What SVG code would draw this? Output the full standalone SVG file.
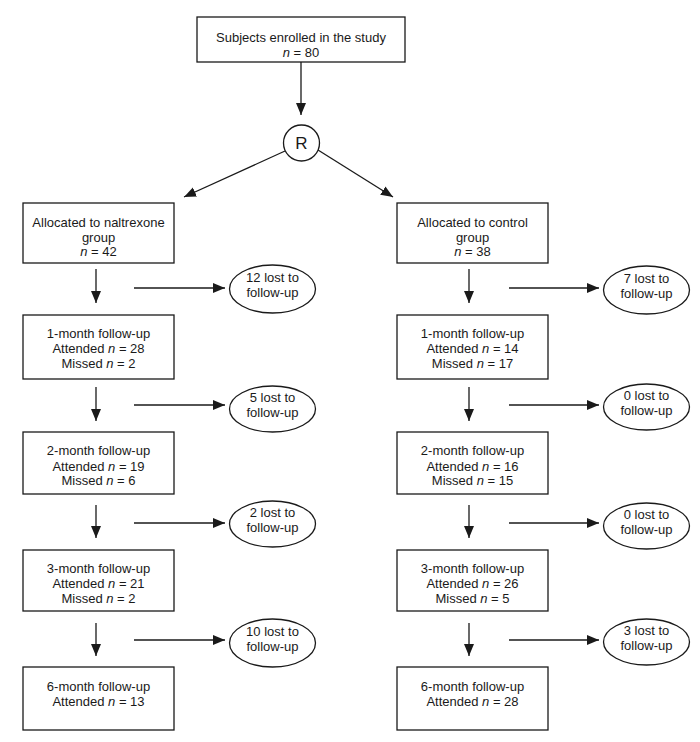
<svg xmlns="http://www.w3.org/2000/svg" width="700" height="742" viewBox="0 0 700 742">
<style>
.box{fill:#fff;stroke:#1a1a1a;stroke-width:1.3}
.ell{fill:#fff;stroke:#1a1a1a;stroke-width:1.3}
.t{font-family:"Liberation Sans",Arial,Helvetica,sans-serif;font-size:13px;fill:#1a1a1a;text-anchor:middle}
.r{font-size:17px}
.i{font-style:italic}
.c{stroke:#1a1a1a;stroke-width:1.3;fill:none;marker-end:url(#ah)}
</style>
<defs>
<marker id="ah" markerUnits="userSpaceOnUse" markerWidth="13" markerHeight="11" refX="12" refY="5" orient="auto">
<path d="M0,0 L12,5 L0,10 z" fill="#1a1a1a"/>
</marker>
</defs>
<rect width="700" height="742" fill="#fff"/>
<g id="connectors">
<line class="c" x1="301" y1="62" x2="301" y2="115"/>
<line class="c" x1="285" y1="151" x2="184" y2="197"/>
<line class="c" x1="318" y1="150" x2="393" y2="197"/>
<line class="c" x1="96" y1="269" x2="96" y2="303"/>
<line class="c" x1="96" y1="387" x2="96" y2="421"/>
<line class="c" x1="96" y1="505" x2="96" y2="538"/>
<line class="c" x1="96" y1="623" x2="96" y2="656"/>
<line class="c" x1="469" y1="269" x2="469" y2="303"/>
<line class="c" x1="469" y1="387" x2="469" y2="421"/>
<line class="c" x1="469" y1="505" x2="469" y2="538"/>
<line class="c" x1="469" y1="623" x2="469" y2="656"/>
<line class="c" x1="134" y1="288" x2="225" y2="288"/>
<line class="c" x1="134" y1="405" x2="225" y2="405"/>
<line class="c" x1="134" y1="523" x2="225" y2="523"/>
<line class="c" x1="134" y1="640" x2="225" y2="640"/>
<line class="c" x1="509" y1="288" x2="599" y2="288"/>
<line class="c" x1="509" y1="405" x2="599" y2="405"/>
<line class="c" x1="509" y1="523" x2="599" y2="523"/>
<line class="c" x1="509" y1="640" x2="599" y2="640"/>
</g>
<g id="enrolled">
<rect class="box" x="197" y="17" width="208" height="45"/>
<text class="t" x="301" y="42">Subjects enrolled in the study</text>
<text class="t" x="301" y="57"><tspan class="i">n</tspan> = 80</text>
</g>
<g id="randomise">
<circle class="ell" cx="301.5" cy="143" r="18"/>
<text class="t r" x="301.5" y="149">R</text>
</g>
<g id="naltrexone">
<rect class="box" x="23" y="203" width="151" height="60"/>
<text class="t" x="98.5" y="227">Allocated to naltrexone</text>
<text class="t" x="98.5" y="242">group</text>
<text class="t" x="98.5" y="256"><tspan class="i">n</tspan> = 42</text>
</g>
<g id="control">
<rect class="box" x="397" y="203" width="151" height="60"/>
<text class="t" x="472.5" y="227">Allocated to control</text>
<text class="t" x="472.5" y="242">group</text>
<text class="t" x="472.5" y="256"><tspan class="i">n</tspan> = 38</text>
</g>
<g id="n1">
<rect class="box" x="23" y="315" width="151" height="64"/>
<text class="t" x="98.5" y="338">1-month follow-up</text>
<text class="t" x="98.5" y="353">Attended <tspan class="i">n</tspan> = 28</text>
<text class="t" x="98.5" y="368">Missed <tspan class="i">n</tspan> = 2</text>
</g>
<g id="c1">
<rect class="box" x="397" y="315" width="151" height="64"/>
<text class="t" x="472.5" y="338">1-month follow-up</text>
<text class="t" x="472.5" y="353">Attended <tspan class="i">n</tspan> = 14</text>
<text class="t" x="472.5" y="368">Missed <tspan class="i">n</tspan> = 17</text>
</g>
<g id="n2">
<rect class="box" x="23" y="432" width="151" height="62"/>
<text class="t" x="98.5" y="455">2-month follow-up</text>
<text class="t" x="98.5" y="471">Attended <tspan class="i">n</tspan> = 19</text>
<text class="t" x="98.5" y="485">Missed <tspan class="i">n</tspan> = 6</text>
</g>
<g id="c2">
<rect class="box" x="397" y="432" width="151" height="62"/>
<text class="t" x="472.5" y="455">2-month follow-up</text>
<text class="t" x="472.5" y="471">Attended <tspan class="i">n</tspan> = 16</text>
<text class="t" x="472.5" y="485">Missed <tspan class="i">n</tspan> = 15</text>
</g>
<g id="n3">
<rect class="box" x="23" y="550" width="151" height="61"/>
<text class="t" x="98.5" y="573">3-month follow-up</text>
<text class="t" x="98.5" y="588">Attended <tspan class="i">n</tspan> = 21</text>
<text class="t" x="98.5" y="603">Missed <tspan class="i">n</tspan> = 2</text>
</g>
<g id="c3">
<rect class="box" x="397" y="550" width="151" height="61"/>
<text class="t" x="472.5" y="573">3-month follow-up</text>
<text class="t" x="472.5" y="588">Attended <tspan class="i">n</tspan> = 26</text>
<text class="t" x="472.5" y="603">Missed <tspan class="i">n</tspan> = 5</text>
</g>
<g id="n6">
<rect class="box" x="23" y="667" width="151" height="63"/>
<text class="t" x="98.5" y="691">6-month follow-up</text>
<text class="t" x="98.5" y="706">Attended <tspan class="i">n</tspan> = 13</text>
</g>
<g id="c6">
<rect class="box" x="397" y="667" width="151" height="63"/>
<text class="t" x="472.5" y="691">6-month follow-up</text>
<text class="t" x="472.5" y="706">Attended <tspan class="i">n</tspan> = 28</text>
</g>
<g id="nl1">
<ellipse class="ell" cx="272.5" cy="289" rx="43" ry="24"/>
<text class="t" x="272.5" y="282">12 lost to</text>
<text class="t" x="272.5" y="297">follow-up</text>
</g>
<g id="nl2">
<ellipse class="ell" cx="272.5" cy="409" rx="43" ry="23"/>
<text class="t" x="272.5" y="402">5 lost to</text>
<text class="t" x="272.5" y="417">follow-up</text>
</g>
<g id="nl3">
<ellipse class="ell" cx="272.5" cy="524" rx="43" ry="23"/>
<text class="t" x="272.5" y="517">2 lost to</text>
<text class="t" x="272.5" y="532">follow-up</text>
</g>
<g id="nl4">
<ellipse class="ell" cx="272.5" cy="643" rx="43" ry="24"/>
<text class="t" x="272.5" y="636">10 lost to</text>
<text class="t" x="272.5" y="651">follow-up</text>
</g>
<g id="cl1">
<ellipse class="ell" cx="646.5" cy="290" rx="43" ry="24"/>
<text class="t" x="646.5" y="283">7 lost to</text>
<text class="t" x="646.5" y="298">follow-up</text>
</g>
<g id="cl2">
<ellipse class="ell" cx="646.5" cy="407" rx="43" ry="23"/>
<text class="t" x="646.5" y="400">0 lost to</text>
<text class="t" x="646.5" y="415">follow-up</text>
</g>
<g id="cl3">
<ellipse class="ell" cx="646.5" cy="526" rx="43" ry="23"/>
<text class="t" x="646.5" y="519">0 lost to</text>
<text class="t" x="646.5" y="534">follow-up</text>
</g>
<g id="cl4">
<ellipse class="ell" cx="646.5" cy="642" rx="43" ry="23"/>
<text class="t" x="646.5" y="635">3 lost to</text>
<text class="t" x="646.5" y="650">follow-up</text>
</g>
</svg>
